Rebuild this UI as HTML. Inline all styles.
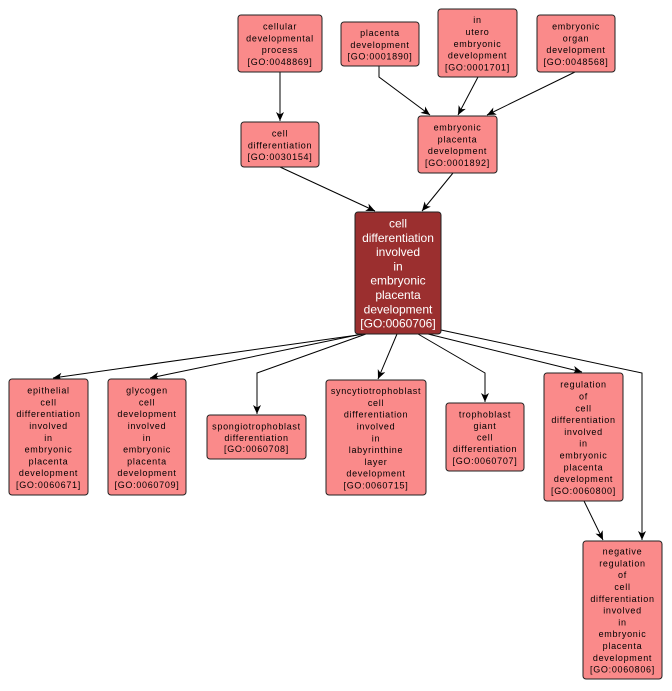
<!DOCTYPE html>
<html><head><meta charset="utf-8"><style>
html,body{margin:0;padding:0;background:#fff;}
svg{display:block;}
text{font-family:"Liberation Sans",Arial,sans-serif;}
.s{font-size:9px;letter-spacing:0.7px;fill:#000;text-anchor:middle;dominant-baseline:central;}
.c{font-size:12px;fill:#fff;text-anchor:middle;dominant-baseline:central;}
.n{fill:#fa8a8a;stroke:#222;stroke-width:1;}
.e{fill:none;stroke:#000;stroke-width:1;}
</style></head><body>
<svg width="672" height="691" viewBox="0 0 672 691" xmlns="http://www.w3.org/2000/svg">
<defs>
<marker id="a" markerWidth="10" markerHeight="10" refX="9" refY="4" orient="auto" markerUnits="userSpaceOnUse">
<path d="M0,0 L9,4 L0,8 L2.5,4 z" fill="#000"/>
</marker>
</defs>

<!-- edges -->
<path class="e" d="M280,72 L280,121" marker-end="url(#a)"/>
<path class="e" d="M379,66 L379,77 L430,115" marker-end="url(#a)"/>
<path class="e" d="M478,77 L458,115" marker-end="url(#a)"/>
<path class="e" d="M575,72 L487,115" marker-end="url(#a)"/>
<path class="e" d="M280,167 L375,211" marker-end="url(#a)"/>
<path class="e" d="M453,173 L422,211" marker-end="url(#a)"/>
<path class="e" d="M372,333 L53,378" marker-end="url(#a)"/>
<path class="e" d="M362,334 L150,378" marker-end="url(#a)"/>
<path class="e" d="M366,334 L257,373 L257,414" marker-end="url(#a)"/>
<path class="e" d="M397,334 L378,379" marker-end="url(#a)"/>
<path class="e" d="M418,334 L485,373 L485,402" marker-end="url(#a)"/>
<path class="e" d="M428,334 L582,372" marker-end="url(#a)"/>
<path class="e" d="M441,330 L642,373 L642,540" marker-end="url(#a)"/>
<path class="e" d="M584,501 L603,540" marker-end="url(#a)"/>

<!-- nodes -->
<rect class="n" x="238" y="15" width="84" height="57" rx="3"/>
<text class="s" x="280" y="26.6">cellular</text>
<text class="s" x="280" y="38.4">developmental</text>
<text class="s" x="280" y="50.2">process</text>
<text class="s" x="280" y="62">[GO:0048869]</text>

<rect class="n" x="341" y="22" width="78" height="44" rx="3"/>
<text class="s" x="380" y="33">placenta</text>
<text class="s" x="380" y="44.8">development</text>
<text class="s" x="380" y="56.6">[GO:0001890]</text>

<rect class="n" x="438" y="9" width="79" height="68" rx="3"/>
<text class="s" x="477.5" y="20.2">in</text>
<text class="s" x="477.5" y="32">utero</text>
<text class="s" x="477.5" y="43.8">embryonic</text>
<text class="s" x="477.5" y="55.6">development</text>
<text class="s" x="477.5" y="67.4">[GO:0001701]</text>

<rect class="n" x="537" y="15" width="78" height="57" rx="3"/>
<text class="s" x="576" y="26.6">embryonic</text>
<text class="s" x="576" y="38.4">organ</text>
<text class="s" x="576" y="50.2">development</text>
<text class="s" x="576" y="62">[GO:0048568]</text>

<rect class="n" x="241" y="122" width="78" height="45" rx="3"/>
<text class="s" x="280" y="133.5">cell</text>
<text class="s" x="280" y="145.3">differentiation</text>
<text class="s" x="280" y="157.1">[GO:0030154]</text>

<rect class="n" x="418" y="116" width="79" height="57" rx="3"/>
<text class="s" x="457.5" y="127.6">embryonic</text>
<text class="s" x="457.5" y="139.4">placenta</text>
<text class="s" x="457.5" y="151.2">development</text>
<text class="s" x="457.5" y="163">[GO:0001892]</text>

<rect x="355" y="212" width="86" height="122" rx="3" fill="#9b2f2f" stroke="#222" stroke-width="1"/>
<text class="c" x="398" y="223.5">cell</text>
<text class="c" x="398" y="237.8">differentiation</text>
<text class="c" x="398" y="252.1">involved</text>
<text class="c" x="398" y="266.4">in</text>
<text class="c" x="398" y="280.7">embryonic</text>
<text class="c" x="398" y="295">placenta</text>
<text class="c" x="398" y="309.3">development</text>
<text class="c" x="398" y="323.6">[GO:0060706]</text>

<rect class="n" x="9" y="379" width="79" height="116" rx="3"/>
<text class="s" x="48.5" y="390.6">epithelial</text>
<text class="s" x="48.5" y="402.4">cell</text>
<text class="s" x="48.5" y="414.2">differentiation</text>
<text class="s" x="48.5" y="426">involved</text>
<text class="s" x="48.5" y="437.8">in</text>
<text class="s" x="48.5" y="449.6">embryonic</text>
<text class="s" x="48.5" y="461.4">placenta</text>
<text class="s" x="48.5" y="473.2">development</text>
<text class="s" x="48.5" y="485">[GO:0060671]</text>

<rect class="n" x="108" y="379" width="78" height="116" rx="3"/>
<text class="s" x="147" y="390.6">glycogen</text>
<text class="s" x="147" y="402.4">cell</text>
<text class="s" x="147" y="414.2">development</text>
<text class="s" x="147" y="426">involved</text>
<text class="s" x="147" y="437.8">in</text>
<text class="s" x="147" y="449.6">embryonic</text>
<text class="s" x="147" y="461.4">placenta</text>
<text class="s" x="147" y="473.2">development</text>
<text class="s" x="147" y="485">[GO:0060709]</text>

<rect class="n" x="207" y="415" width="99" height="44" rx="3"/>
<text class="s" x="256.5" y="426.5">spongiotrophoblast</text>
<text class="s" x="256.5" y="437.8">differentiation</text>
<text class="s" x="256.5" y="449.1">[GO:0060708]</text>

<rect class="n" x="326" y="380" width="100" height="115" rx="3"/>
<text class="s" x="376" y="391.1">syncytiotrophoblast</text>
<text class="s" x="376" y="402.9">cell</text>
<text class="s" x="376" y="414.7">differentiation</text>
<text class="s" x="376" y="426.5">involved</text>
<text class="s" x="376" y="438.3">in</text>
<text class="s" x="376" y="450.1">labyrinthine</text>
<text class="s" x="376" y="461.9">layer</text>
<text class="s" x="376" y="473.7">development</text>
<text class="s" x="376" y="485.5">[GO:0060715]</text>

<rect class="n" x="446" y="403" width="78" height="68" rx="3"/>
<text class="s" x="485" y="414.4">trophoblast</text>
<text class="s" x="485" y="426">giant</text>
<text class="s" x="485" y="437.6">cell</text>
<text class="s" x="485" y="449.2">differentiation</text>
<text class="s" x="485" y="460.8">[GO:0060707]</text>

<rect class="n" x="544" y="373" width="79" height="128" rx="3"/>
<text class="s" x="583.5" y="384.7">regulation</text>
<text class="s" x="583.5" y="396.5">of</text>
<text class="s" x="583.5" y="408.3">cell</text>
<text class="s" x="583.5" y="420.1">differentiation</text>
<text class="s" x="583.5" y="431.9">involved</text>
<text class="s" x="583.5" y="443.7">in</text>
<text class="s" x="583.5" y="455.5">embryonic</text>
<text class="s" x="583.5" y="467.3">placenta</text>
<text class="s" x="583.5" y="479.1">development</text>
<text class="s" x="583.5" y="490.9">[GO:0060800]</text>

<rect class="n" x="583" y="541" width="79" height="138" rx="3"/>
<text class="s" x="622.5" y="551.6">negative</text>
<text class="s" x="622.5" y="563.4">regulation</text>
<text class="s" x="622.5" y="575.2">of</text>
<text class="s" x="622.5" y="587">cell</text>
<text class="s" x="622.5" y="598.8">differentiation</text>
<text class="s" x="622.5" y="610.6">involved</text>
<text class="s" x="622.5" y="622.4">in</text>
<text class="s" x="622.5" y="634.2">embryonic</text>
<text class="s" x="622.5" y="646">placenta</text>
<text class="s" x="622.5" y="657.8">development</text>
<text class="s" x="622.5" y="669.6">[GO:0060806]</text>
</svg>
</body></html>
